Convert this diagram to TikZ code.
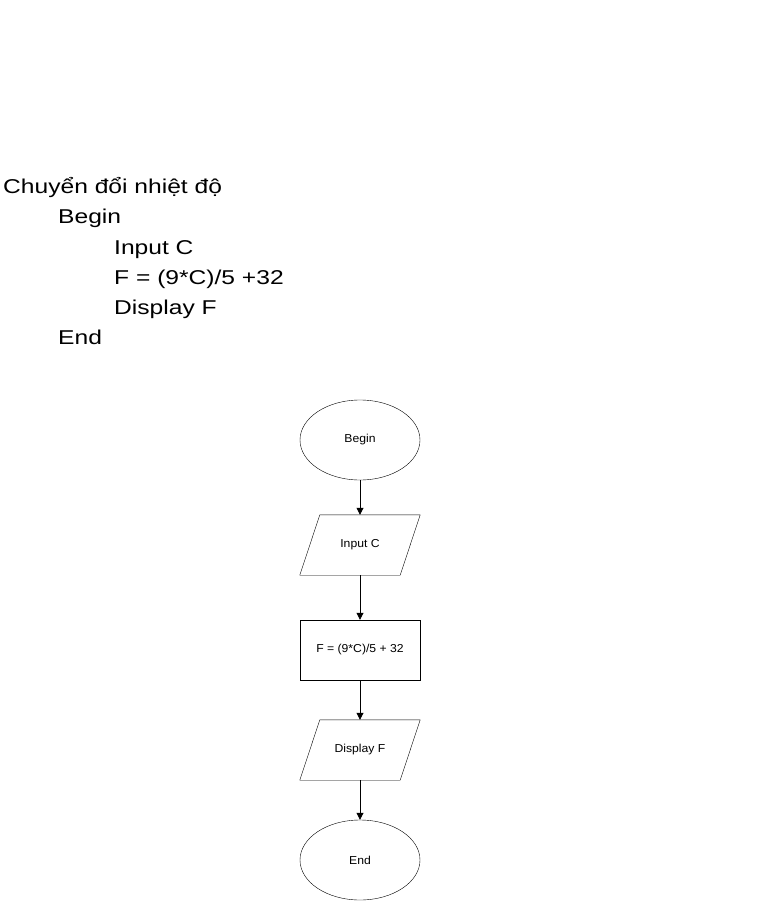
\documentclass[tikz,border=0pt]{standalone}
\usepackage{fontspec}
\setmainfont{Liberation Sans}
\newfontfamily\bigfont[FakeStretch=1.23]{Liberation Sans}
\newfontfamily\smallfont[FakeStretch=1.06]{Liberation Sans}
\usetikzlibrary{shapes.geometric,arrows.meta}
\begin{document}
\begin{tikzpicture}[x=1pt,y=-1pt,
  big/.style={anchor=base west,inner sep=0pt,font=\bigfont\fontsize{20}{24}\selectfont},
  small/.style={font=\smallfont\fontsize{11.5}{13}\selectfont},
  term/.style={ellipse,draw,minimum width=120pt,minimum height=80pt,inner sep=0pt,small},
  proc/.style={rectangle,draw,minimum width=120pt,minimum height=60pt,inner sep=0pt,small},
  io/.style={rectangle,minimum width=120pt,minimum height=60pt,inner sep=0pt,small},
  conn/.style={-{Triangle[length=7pt,width=7pt]},line width=0.8pt}]
\useasboundingbox (0,0) rectangle (761,901);
\node[big] (t1) at (3,194) {Chuyển đổi nhiệt độ};
\node[big] (t2) at (58,224) {Begin};
\node[big] (t3) at (114,254) {Input C};
\node[big] (t4) at (114,284) {F = (9*C)/5 +32};
\node[big] (t5) at (114,314) {Display F};
\node[big] (t6) at (58,344) {End};

\node[term] (begin) at (360,440) {Begin};
\node[io] (input) at (360,545) {Input C};
\draw ([xshift=20pt]input.north west) -- (input.north east) -- ([xshift=-20pt]input.south east) -- (input.south west) -- cycle;
\node[proc] (calc) at (360,650) {F = (9*C)/5 + 32};
\node[io] (disp) at (360,750) {Display F};
\draw ([xshift=20pt]disp.north west) -- (disp.north east) -- ([xshift=-20pt]disp.south east) -- (disp.south west) -- cycle;
\node[term] (end) at (360,860) {End};

\draw[conn] (begin) -- (input);
\draw[conn] (input) -- (calc);
\draw[conn] (calc) -- (disp);
\draw[conn] (disp) -- (end);
\end{tikzpicture}
\end{document}
